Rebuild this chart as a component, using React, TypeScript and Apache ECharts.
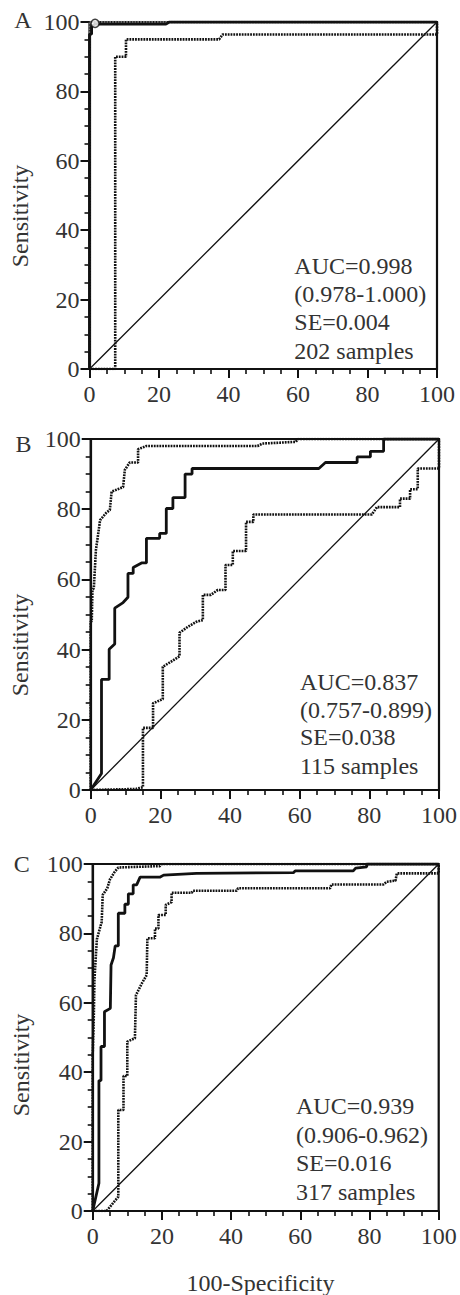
import React, { useEffect, useRef } from "react";
import * as echarts from "echarts";

// ---- Panel A data (100-Specificity, Sensitivity) ----
const aSolid = [[0,0],[0,96.5],[0.6,96.5],[0.6,98.8],[1.6,99.4],[22,99.4],[23,100],[100,100]];
const aUpper = [[0,0],[0,100],[100,100]];
const aLower = [[0,0],[7.4,0],[7.4,90],[10.5,90],[10.5,95],[37.3,95],[38.3,96.4],[100,96.4],[100,100]];
const aCutoff = [[1.6,99.6]];
const aStats = ["AUC=0.998", "(0.978-1.000)", "SE=0.004", "202 samples"];

// ---- Panel B data ----
const bSolid = [[0,0],[3.1,4.7],[3.1,31.5],[5.3,31.5],[5.3,40.1],[6.9,41.6],[6.9,51.8],[9.3,53.4],[10.7,54.9],[10.7,61.7],[12.2,61.7],[12.2,63.4],[14.6,64.7],[16,64.7],[16,71.7],[19.8,71.7],[19.8,73.1],[21.7,73.1],[21.7,80.2],[23.6,80.2],[23.6,83.3],[27.1,83.3],[27.1,90],[29.1,90],[29.1,91.6],[65.5,91.6],[67.4,93.3],[76.5,93.3],[76.5,94.9],[80.3,94.9],[80.3,96.5],[84.1,96.5],[84.1,100],[100,100]];
const bUpper = [[0,0],[0,48],[0.3,48],[0.5,57],[0.9,57.5],[1.5,68.4],[2.7,76.9],[4.5,79],[5.5,79.8],[6,85],[9.3,86.3],[9.8,91.2],[11.2,93.3],[13.6,93.3],[13.6,97.1],[16,98],[47.9,98],[49.3,98.7],[58.9,99.2],[59.5,100],[100,100]];
const bLower = [[0,0],[13,0.3],[15,0.8],[15,17.7],[17.9,17.7],[17.9,24.7],[20.7,25.9],[20.7,35.1],[25.5,38.1],[25.5,44.8],[27.9,46.5],[30.3,47.9],[32.2,48.4],[32.2,55.6],[34.5,55.6],[36.5,57],[38.7,57],[38.7,64.1],[40.8,64.1],[40.8,68.1],[44.6,68.1],[44.6,76.4],[46.7,76.4],[46.7,78.5],[80.7,78.5],[82.2,80.6],[88.8,80.6],[88.8,83],[91.7,83],[91.7,85.7],[93.9,85.7],[93.9,91.6],[100,91.6],[100,100]];
const bStats = ["AUC=0.837", "(0.757-0.899)", "SE=0.038", "115 samples"];

// ---- Panel C data ----
const cSolid = [[0,0],[1.8,8],[1.8,37.6],[2.4,37.6],[2.4,47.4],[3.4,47.4],[3.4,57.4],[5.1,58.4],[5.3,70.9],[6,73],[6.5,76.4],[7.4,76.4],[7.4,85.8],[9.3,85.8],[9.3,88.4],[10.3,88.4],[10.3,91.4],[11.7,91.4],[11.7,94],[12.7,94],[13.7,96.2],[19.4,96.2],[20.5,96.8],[30,97.3],[58,97.5],[58.5,98],[75.3,98],[76,98.8],[79.2,99.2],[79.2,100],[100,100]];
const cUpper = [[0,0],[0,45],[0.3,55],[0.5,66.6],[1.2,78.3],[2.2,81.9],[2.6,83.3],[2.9,91.1],[4.2,93],[5,95.6],[6.4,97.8],[7.4,99],[19.4,99.4],[20,100],[100,100]];
const cLower = [[0,0],[4,0],[7.4,4.1],[7.4,29.1],[8.9,29.1],[8.9,38.9],[10,38.9],[10,48.8],[12.2,49.8],[12.5,62.2],[14.2,65.6],[15.6,68],[15.8,78.6],[18,78.6],[18,81.4],[19,81.4],[19,85.3],[21.1,85.3],[21.1,88.2],[22.8,89],[22.8,91.7],[28.6,91.7],[29,92.3],[41.6,92.3],[42,93],[68.6,93],[69,94.1],[84,94.1],[85,94.9],[87.5,95.2],[87.9,97.3],[100,97.3],[100,100]];
const cStats = ["AUC=0.939", "(0.906-0.962)", "SE=0.016", "317 samples"];

const diagonal = [[0,0],[100,100]];
const panelLetters = ["A", "B", "C"];
const yAxisTitle = "Sensitivity";
const xAxisTitle = "100-Specificity";

const FONT = "'Liberation Serif', 'Times New Roman', serif";
const TXT = "#333";
const INK = "#111";

const grids = [
  { left: 89.5, top: 22, width: 347.5, height: 347 },
  { left: 90.7, top: 439, width: 350, height: 351 },
  { left: 92.7, top: 864, width: 346, height: 347 },
];

export default function App() {
  const ref = useRef<HTMLDivElement>(null);
  useEffect(() => {
    document.body.style.margin = "0";
    if (!ref.current) return;
    const chart = echarts.init(ref.current, null, { renderer: "svg" });

    const axisCommon = (gi: number) => ({
      gridIndex: gi,
      type: "value",
      min: 0,
      max: 100,
      interval: 20,
      axisLine: { show: true, lineStyle: { color: INK, width: 2.2 } },
      axisTick: { show: true, inside: false, length: 9, lineStyle: { color: INK, width: 2 } },
      minorTick: { show: true, splitNumber: 4, length: 5, lineStyle: { color: INK, width: 1.6 } },
      splitLine: { show: false },
      axisLabel: { color: TXT, fontFamily: FONT, fontSize: 24 },
    });

    const xAxes = [0, 1, 2].map((i) => ({
      ...axisCommon(i),
      axisLabel: { color: TXT, fontFamily: FONT, fontSize: 24, margin: 13 },
    }));
    const yAxes = [0, 1, 2].map((i) => ({
      ...axisCommon(i),
      axisLabel: { color: TXT, fontFamily: FONT, fontSize: 24, margin: 10 },
    }));

    const dotted = [1.8, 1];
    const panels = [
      { solid: aSolid, upper: aUpper, lower: aLower },
      { solid: bSolid, upper: bUpper, lower: bLower },
      { solid: cSolid, upper: cUpper, lower: cLower },
    ];
    const series: any[] = [];
    panels.forEach((p, i) => {
      series.push({
        type: "line", xAxisIndex: i, yAxisIndex: i, data: diagonal, symbol: "none",
        lineStyle: { color: INK, width: 1.3 },
      });
      series.push({
        type: "line", xAxisIndex: i, yAxisIndex: i, data: p.lower, symbol: "none",
        lineStyle: { color: INK, width: 2.6, type: dotted },
      });
      series.push({
        type: "line", xAxisIndex: i, yAxisIndex: i, data: p.upper, symbol: "none",
        lineStyle: { color: i === 0 ? "#777" : INK, width: 2.6, type: dotted },
      });
      series.push({
        type: "line", xAxisIndex: i, yAxisIndex: i, data: p.solid, symbol: "none",
        lineStyle: { color: INK, width: 2.8 },
      });
    });
    series.push({
      type: "scatter", xAxisIndex: 0, yAxisIndex: 0, data: aCutoff, symbol: "circle", symbolSize: 8,
      itemStyle: { color: "#fff", borderColor: INK, borderWidth: 1.5 }, z: 5,
    });

    const statsPos = [
      { x: 294.3, ys: [266, 294, 322, 350.5], lines: aStats },
      { x: 300, ys: [681.7, 710.3, 737, 765.5], lines: bStats },
      { x: 296, ys: [1106, 1134.5, 1163, 1191.5], lines: cStats },
    ];
    const graphics: any[] = [];
    statsPos.forEach((s) => {
      s.lines.forEach((t, k) => {
        graphics.push({
          type: "text", x: s.x, y: s.ys[k],
          style: { text: t, font: `24px ${FONT}`, fill: TXT, align: "left", verticalAlign: "middle" },
        });
      });
    });
    const letterPos = [[23, 20], [23.5, 444], [21.7, 864]];
    panelLetters.forEach((L, i) => {
      graphics.push({
        type: "text", x: letterPos[i][0], y: letterPos[i][1],
        style: { text: L, font: `24px ${FONT}`, fill: TXT, align: "center", verticalAlign: "middle" },
      });
    });
    const sensPos = [[20, 216], [20, 645], [21, 1065]];
    sensPos.forEach((p) => {
      graphics.push({
        type: "text", x: p[0], y: p[1], rotation: Math.PI / 2,
        style: { text: yAxisTitle, font: `24px ${FONT}`, fill: TXT, align: "center", verticalAlign: "middle" },
      });
    });
    graphics.push({
      type: "text", x: 260.5, y: 1282.7,
      style: { text: xAxisTitle, font: `24px ${FONT}`, fill: TXT, align: "center", verticalAlign: "middle" },
    });

    chart.setOption({
      animation: false,
      backgroundColor: "#fff",
      grid: grids.map((g) => ({ ...g, show: true, borderColor: INK, borderWidth: 2.2, backgroundColor: "transparent" })),
      xAxis: xAxes,
      yAxis: yAxes,
      series,
      graphic: graphics,
    });
    return () => chart.dispose();
  }, []);
  return <div ref={ref} style={{ width: 460, height: 1295 }} />;
}
